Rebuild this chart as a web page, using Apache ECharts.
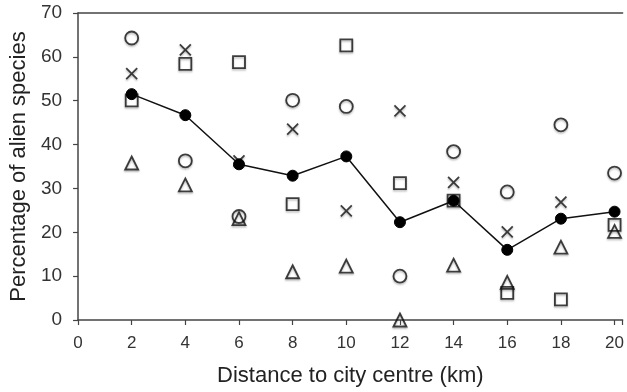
<!DOCTYPE html>
<html>
<head>
<meta charset="utf-8">
<script src="https://cdn.jsdelivr.net/npm/echarts@6/dist/echarts.min.js"></script>
<style>html,body{margin:0;padding:0;background:#fff}#c{width:627px;height:392px}</style>
</head>
<body>
<div id="c"></div>
<script>
const distances = [2, 4, 6, 8, 10, 12, 14, 16, 18, 20];
const meanValues = [51.5, 46.7, 35.5, 32.9, 37.3, 22.3, 27.2, 16.0, 23.1, 24.7];
const circleValues = [64.3, 36.3, 23.6, 50.1, 48.7, 10.0, 38.4, 29.2, 44.5, 33.5];
const crossValues = [56.2, 61.6, 36.3, 43.5, 24.9, 47.7, 31.4, 20.1, 26.9, null];
const squareValues = [50.1, 58.4, 58.8, 26.4, 62.6, 31.2, 27.2, 6.2, 4.7, 21.7];
const triangleValues = [35.8, 30.8, 23.1, 11.0, 12.3, 0.0, 12.5, 8.6, 16.6, 20.2];

const pairs = vals => distances.map((d, i) => [d, vals[i]]).filter(p => p[1] !== null);
const shadow = {shadowBlur: 2, shadowColor: 'rgba(0,0,0,0.35)', shadowOffsetY: 1.5};
const hollow = (name, symbol, size, vals) => ({
  name, type: 'scatter', symbol, symbolSize: size, data: pairs(vals), z: 2,
  itemStyle: Object.assign({color: 'transparent', borderColor: '#111', borderWidth: 1.8}, shadow),
  emphasis: {disabled: true}
});

const chart = echarts.init(document.getElementById('c'));
chart.setOption({
  animation: false,
  grid: {left: 77, right: 0, top: 13, bottom: 72},
  xAxis: [{
    type: 'value', min: 0, max: 20.3, interval: 2,
    name: 'Distance to city centre (km)', nameLocation: 'middle', nameGap: 45,
    nameTextStyle: {fontFamily: 'Liberation Sans', fontSize: 22, color: '#222'},
    axisLine: {show: true, lineStyle: {color: '#444', width: 1.5}},
    axisTick: {show: true, length: 5, lineStyle: {color: '#444', width: 1.2}},
    axisLabel: {fontFamily: 'Liberation Sans', fontSize: 17, color: '#333', margin: 15,
      formatter: v => (v % 2 === 0 ? String(v) : '')},
    splitLine: {show: false}
  }, {
    type: 'value', position: 'top', min: 0, max: 20.3,
    axisLine: {show: true, lineStyle: {color: '#444', width: 1.5}},
    axisTick: {show: false}, axisLabel: {show: false}, splitLine: {show: false}
  }],
  yAxis: {
    type: 'value', min: 0, max: 70, interval: 10,
    name: 'Percentage of alien species', nameLocation: 'middle', nameGap: 46,
    nameTextStyle: {fontFamily: 'Liberation Sans', fontSize: 22, color: '#222'},
    axisLine: {show: true, lineStyle: {color: '#444', width: 1.5}},
    axisTick: {show: true, length: 5, lineStyle: {color: '#444', width: 1.2}},
    axisLabel: {fontFamily: 'Liberation Sans', fontSize: 19, color: '#333', margin: 16},
    splitLine: {show: false}
  },
  series: [
    hollow('circles', 'circle', 13, circleValues),
    hollow('squares', 'rect', 12, squareValues),
    hollow('triangles', 'triangle', 13, triangleValues),
    hollow('crosses', 'path://M0,0L10,10M10,0L0,10', 11, crossValues),
    {
      name: 'mean', type: 'line', data: pairs(meanValues), z: 5,
      symbol: 'circle', symbolSize: 11,
      lineStyle: {color: '#111', width: 1.5},
      itemStyle: {color: '#000', borderColor: '#000', borderWidth: 1},
      emphasis: {disabled: true}
    }
  ]
});
</script>
</body>
</html>
